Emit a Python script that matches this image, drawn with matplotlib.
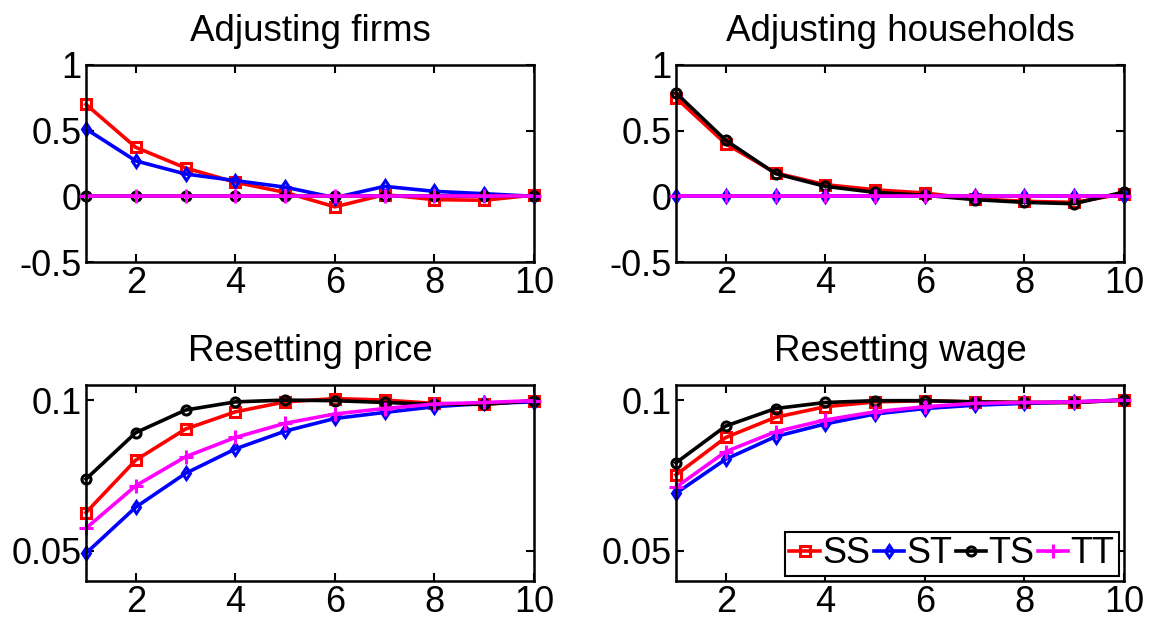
import numpy as np
import matplotlib
matplotlib.use("Agg")
import matplotlib.pyplot as plt

plt.rcParams['font.family'] = ['Liberation Sans', 'DejaVu Sans']
plt.rcParams['axes.unicode_minus'] = False

# horizon
periods = np.arange(1, 11)

# Adjusting firms
firms_ss = [0.70, 0.373, 0.216, 0.107, 0.03, -0.08, 0.013, -0.025, -0.03, 0.01]
firms_st = [0.513, 0.27, 0.17, 0.12, 0.07, -0.01, 0.076, 0.038, 0.02, 0.0]
firms_ts = [0.0] * 10
firms_tt = [0.0] * 10

# Adjusting households
hh_ss = [0.75, 0.40, 0.178, 0.089, 0.05, 0.025, -0.018, -0.038, -0.046, 0.02]
hh_st = [0.0] * 10
hh_ts = [0.787, 0.426, 0.173, 0.076, 0.03, 0.008, -0.025, -0.046, -0.056, 0.033]
hh_tt = [0.0] * 10

# Resetting price
price_ss = [0.0627, 0.0801, 0.0904, 0.0961, 0.0994, 0.1005, 0.1, 0.0989, 0.0986, 0.0998]
price_st = [0.0492, 0.0645, 0.0757, 0.0838, 0.0897, 0.0939, 0.0959, 0.0978, 0.0989, 0.0994]
price_ts = [0.0738, 0.0892, 0.0967, 0.0994, 0.1, 0.0998, 0.0992, 0.0986, 0.0986, 0.0998]
price_tt = [0.0575, 0.0716, 0.0812, 0.0876, 0.0923, 0.0954, 0.0972, 0.0987, 0.0992, 0.0998]

# Resetting wage
wage_ss = [0.0752, 0.0876, 0.0943, 0.0978, 0.0994, 0.0998, 0.0994, 0.0992, 0.0992, 0.1]
wage_st = [0.0691, 0.0804, 0.0879, 0.0921, 0.0954, 0.0972, 0.0983, 0.0989, 0.0994, 0.1]
wage_ts = [0.0792, 0.0914, 0.0972, 0.0992, 0.0998, 0.0998, 0.0994, 0.0992, 0.0992, 0.1]
wage_tt = [0.0711, 0.0829, 0.0895, 0.0934, 0.0961, 0.0978, 0.0989, 0.0992, 0.0994, 0.1]

titles = ["Adjusting firms", "Adjusting households", "Resetting price", "Resetting wage"]
series_names = ["SS", "ST", "TS", "TT"]
xticks = [2, 4, 6, 8, 10]
top_yticks = [-0.5, 0, 0.5, 1]
top_ylabels = ["-0.5", "0", "0.5", "1"]
bot_yticks = [0.05, 0.1]
bot_ylabels = ["0.05", "0.1"]

styles = [
    dict(color="red", marker="s"),
    dict(color="blue", marker="d"),
    dict(color="black", marker="o"),
    dict(color="magenta", marker="+"),
]

W, H = 1149, 621
fig = plt.figure(figsize=(W / 100, H / 100), dpi=100)

# axes boxes in pixels: left, top, right, bottom
boxes = [(86, 65, 534, 262), (676, 65, 1124, 262),
         (86, 385, 534, 581), (676, 385, 1124, 581)]
data = [
    [firms_ss, firms_st, firms_ts, firms_tt],
    [hh_ss, hh_st, hh_ts, hh_tt],
    [price_ss, price_st, price_ts, price_tt],
    [wage_ss, wage_st, wage_ts, wage_tt],
]

FS = 26
for i, (box, rows) in enumerate(zip(boxes, data)):
    l, t, r, b = box
    ax = fig.add_axes([l / W, 1 - b / H, (r - l) / W, (b - t) / H])
    lines = []
    for vals, st in zip(rows, styles):
        ln, = ax.plot(periods, vals, color=st["color"], marker=st["marker"],
                      lw=2.6, ms=6.5 if st["marker"] != "+" else 10,
                      mfc="none", mew=2.2, clip_on=False)
        lines.append(ln)
    ax.set_xlim(1, 10)
    ax.set_xticks(xticks)
    if i < 2:
        ax.set_ylim(-0.5, 1)
        ax.set_yticks(top_yticks)
        ax.set_yticklabels(top_ylabels)
    else:
        ax.set_ylim(0.04, 0.105)
        ax.set_yticks(bot_yticks)
        ax.set_yticklabels(bot_ylabels)
    ax.set_title(titles[i], fontsize=26.5, pad=17)
    ax.tick_params(direction="in", length=6, width=1.5, labelsize=FS,
                   top=True, right=True, pad=3)
    for sp in ax.spines.values():
        sp.set_linewidth(1.8)
    if i == 3:
        leg = ax.legend(lines, series_names, loc="lower right", ncol=4,
                        fontsize=FS, numpoints=1, handlelength=0.85,
                        handletextpad=0.05, columnspacing=0.1,
                        borderpad=0.12, borderaxespad=0.15, fancybox=False,
                        framealpha=1)
        leg.get_frame().set_edgecolor("black")
        leg.get_frame().set_linewidth(1.5)

fig.savefig("out.png", dpi=100)
